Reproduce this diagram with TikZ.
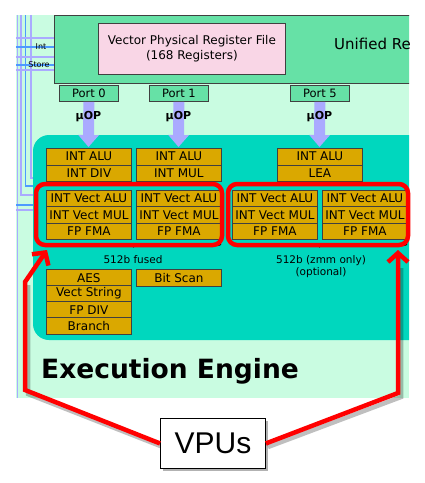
\documentclass[tikz,border=0pt]{standalone}
\usepackage{fontspec}
\newfontfamily\dv{DejaVu Sans}
\newfontfamily\lib{Liberation Sans}
\usetikzlibrary{arrows.meta,decorations.pathreplacing}
\definecolor{mint}{HTML}{C9FCE1}
\definecolor{rsgreen}{HTML}{66E1A6}
\definecolor{pinkrf}{HTML}{F9D6E6}
\definecolor{tealx}{HTML}{00D7BE}
\definecolor{unitor}{HTML}{DAA800}
\definecolor{lav}{HTML}{AAAAFF}
\definecolor{bline}{HTML}{4D9AFF}
\begin{document}
\begin{tikzpicture}[x=1pt,y=-1pt,
  unit/.style={draw=black!75, line width=0.8pt, fill=unitor, minimum width=85pt, minimum height=16.5pt, inner sep=0pt, anchor=north west, font=\dv\fontsize{12}{12}\selectfont},
  port/.style={draw=black!75, line width=0.8pt, fill=rsgreen, minimum width=59pt, minimum height=16pt, inner sep=0pt, anchor=north west, font=\dv\fontsize{11.5}{12}\selectfont},
  uop/.style={draw=lav, line width=11pt, -{Triangle[length=12pt,width=20pt]}},
  uoptext/.style={font=\dv\bfseries\fontsize{11}{11}\selectfont},
  vpurect/.style={draw=red, line width=4.5pt, rounded corners=9pt},
  redarrow/.style={draw=red, line width=4.5pt, -{Straight Barb[length=9pt,width=20pt,line width=4.5pt]}},
  shadowline/.style={draw=black, opacity=0.25, line width=4.5pt},
  brace/.style={draw=black, line width=0.9pt, decorate, decoration={brace,amplitude=3pt,mirror}},
  lavl/.style={draw=lav, line width=1.6pt},
  bluel/.style={draw=bline, line width=1.6pt},
  smalltext/.style={font=\dv\fontsize{10.5}{12}\selectfont, align=center}
]
\useasboundingbox (0,0) rectangle (424,483);
% background
\fill[mint] (16,15) rectangle (409,398);
\begin{scope}
\clip (16,15) rectangle (409,398);
% left bus lines
\draw[lavl] (17.5,15) -- (17.5,398);
\draw[lavl] (21,15) -- (21,195) -- (40,195);
\draw[bluel] (25.5,15) -- (25.5,186) -- (40,186);
\draw[lavl] (31,15) -- (31,178) -- (40,178);
\draw[lavl] (16,38) -- (54,38);
\draw[bluel] (16,47) -- (54,47);
\draw[lavl] (16,57) -- (54,57);
\draw[bluel] (16,65) -- (54,65);
\draw[lavl] (16,70) -- (54,70);
\draw[bluel] (16,205) -- (40,205);
\draw[lavl] (16,210) -- (40,210);
\node[font=\dv\fontsize{8}{8}\selectfont, inner sep=0pt] (intl) at (41,46.5) {Int};
\node[font=\dv\fontsize{8}{8}\selectfont, inner sep=0pt] (storel) at (39,64.5) {Store};
% unified reservation station
\draw[fill=rsgreen, draw=black!75, line width=0.8pt] (54,15) rectangle (430,83);
\node[font=\dv\fontsize{15}{15}\selectfont, anchor=west, inner sep=0pt] (urs) at (334,44) {Unified Re};
\node[draw=black!75, line width=0.8pt, fill=pinkrf, minimum width=187pt, minimum height=51pt, inner sep=0pt, align=center, font=\dv\fontsize{12}{15}\selectfont, anchor=north west] (vprf) at (98,23) {Vector Physical Register File\\(168 Registers)};
% ports
\node[port] (p0) at (59,85) {Port 0};
\node[port] (p1) at (149,85) {Port 1};
\node[port] (p5) at (290,85) {Port 5};
% execution region
\fill[tealx, rounded corners=16pt] (33,135) rectangle (440,340);
% uop arrows
\coordinate (a0) at (88.5,147);
\coordinate (a1) at (178.5,147);
\coordinate (a5) at (319.5,147);
\draw[uop] (p0.south) -- (a0);
\draw[uop] (p1.south) -- (a1);
\draw[uop] (p5.south) -- (a5);
\node[uoptext] (u0) at (88.5,117) {μOP};
\node[uoptext] (u1) at (178.5,117) {μOP};
\node[uoptext] (u5) at (319.5,117) {μOP};
% scalar units
\node[unit] (c1a) at (46,148) {INT ALU};
\node[unit] (c1b) at (46,164.5) {INT DIV};
\node[unit] (c2a) at (136,148) {INT ALU};
\node[unit] (c2b) at (136,164.5) {INT MUL};
\node[unit] (c3a) at (277,148) {INT ALU};
\node[unit] (c3b) at (277,164.5) {LEA};
% vector units
\foreach \x/\n in {46/v1,136/v2,232/v3,322/v4}{
  \node[unit] (\n a) at (\x,190) {INT Vect ALU};
  \node[unit] (\n b) at (\x,206.3) {INT Vect MUL};
  \node[unit] (\n c) at (\x,222.6) {FP FMA};
}
% lower units
\node[unit] (aes) at (46,269) {AES};
\node[unit] (vstr) at (46,285) {Vect String};
\node[unit] (fpdiv) at (46,301) {FP DIV};
\node[unit] (br) at (46,317) {Branch};
\node[unit] (bscan) at (136,269) {Bit Scan};
% braces
\draw[brace] (46,244) -- (221,244);
\draw[brace] (232,244) -- (407,244);
\node[smalltext] (f512) at (133,260) {512b fused};
\node[smalltext] (z512) at (321,267) {512b (zmm only)\\(optional)};
% title
\node[font=\dv\bfseries\fontsize{26.5}{27}\selectfont, anchor=west, inner sep=0pt] (ee) at (41,371) {Execution Engine};
\end{scope}
% VPU red rectangles
\draw[vpurect] (36,184) rectangle (222,245);
\draw[vpurect] (228,184) rectangle (408,245);
% VPUs label and arrows
\coordinate (tipL) at (47,250);
\coordinate (tipR) at (398,250);
\coordinate (cL1) at (25,390);
\coordinate (cL2) at (25,282);
\coordinate (cR1) at (398,393);
\draw[shadowline] (163,447) -- (28,394) -- (28,285);
\draw[shadowline] (268,447) -- (401,397) -- (401,268);
\fill[black, opacity=0.3] (163,421) rectangle (268,471);
\node[draw=black, line width=0.9pt, fill=white, minimum width=105pt, minimum height=50pt, inner sep=0pt, font=\lib\fontsize{30}{30}\selectfont, anchor=north west] (vpu) at (160,418) {VPUs};
\draw[redarrow, line join=miter] (vpu.west) -- (cL1) -- (cL2) -- (tipL);
\draw[redarrow, line join=miter] (vpu.east) -- (cR1) -- (tipR);
\end{tikzpicture}
\end{document}
